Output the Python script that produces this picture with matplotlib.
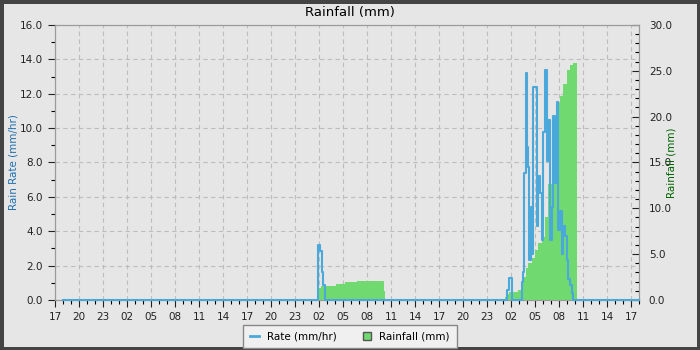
import datetime as dt
import matplotlib
matplotlib.use("Agg")
import matplotlib.pyplot as plt
import matplotlib.dates as mdates
from matplotlib.patches import Patch
from matplotlib.lines import Line2D

start = dt.datetime(2024, 5, 10, 17, 0)

# rain rate (mm/hr), hours after start
rate_hours = [1.0, 32.75, 32.9, 33.1, 33.35, 33.5, 33.75,
              56.5, 56.75, 57.1,
              58.33, 58.54, 58.67, 58.83, 58.96, 59.08, 59.25, 59.46, 59.67,
              59.79, 60.21, 60.42, 60.625, 60.83, 61.04, 61.25, 61.46, 61.67,
              61.875, 62.08, 62.29, 62.5, 62.71, 62.92, 63.125, 63.33, 63.54,
              63.75, 63.96, 64.17, 64.375, 64.58, 64.79, 73.0]
rate_values = [0, 0, 3.2, 2.85, 1.6, 0.9, 0,
               0.6, 1.26, 0,
               1.07, 1.65, 7.4, 13.2, 8.9, 7.75, 2.3, 5.4, 2.7,
               12.4, 4.3, 7.2, 6.2, 3.5, 9.8, 13.4, 8.1, 10.5,
               3.5, 5.4, 10.7, 6.8, 11.5, 4.1, 5.2, 2.7, 4.3,
               3.7, 2.3, 1.2, 0.9, 0.4, 0, 0]

# rainfall (mm), hours after start
rain_hours = [1.0, 32.8, 33.0, 33.3, 35.1, 36.3, 37.7, 41.1, 41.25,
              56.25, 56.46, 56.75, 57.92, 58.33, 58.54, 58.83, 59.17, 59.58,
              60.0, 60.42, 60.83, 61.25, 61.67, 62.08, 62.5, 62.71, 63.125,
              63.54, 63.96, 64.375, 64.79, 65.21, 73.0]
rain_values = [0, 0.2, 1.27, 1.53, 1.74, 1.96, 2.07, 1.0, 0,
               0.3, 0.6, 0.9, 1.1, 1.85, 2.5, 3.5, 4.0, 4.6,
               5.45, 6.2, 6.9, 9.1, 12.7, 17.4, 19.1, 21.5, 22.2,
               23.6, 25.1, 25.6, 25.9, 0, 0]

rate_t = [start + dt.timedelta(hours=h) for h in rate_hours]
rain_t = [start + dt.timedelta(hours=h) for h in rain_hours]

bg = '#e6e6e6'
blue = '#4aa8db'
green = '#70d970'

fig = plt.figure(figsize=(7, 3.5), dpi=100, facecolor=bg,
                 edgecolor='#444444', linewidth=5)
ax = fig.add_axes([0.0786, 0.1429, 0.8343, 0.7857])
ax.set_facecolor(bg)
ax_rain = ax.twinx()
ax_rate = ax.twinx()

ax.set_xlim(start, start + dt.timedelta(hours=73))
ax.set_ylim(0, 16)
ax.set_yticks([i * 2 for i in range(9)])
ax.set_yticks(range(17), minor=True)
ax.yaxis.set_major_formatter(matplotlib.ticker.FormatStrFormatter('%.1f'))
ax.xaxis.set_major_locator(mdates.HourLocator(byhour=range(2, 24, 3)))
ax.xaxis.set_minor_locator(mdates.HourLocator())
ax.xaxis.set_major_formatter(mdates.DateFormatter('%H'))
ax.grid(True, color='#bdbdbd', linestyle=(0, (4, 3)), linewidth=0.8)
ax.tick_params(labelsize=7.5, colors='#222222', length=5, width=0.8)
ax.tick_params(which='minor', length=3, width=0.8)
ax.set_ylabel('Rain Rate (mm/hr)', color='#1f6fae', fontsize=7.5, labelpad=1)

ax_rain.fill_between(rain_t, rain_values, step='post', color=green, linewidth=0)
ax_rain.set_ylim(0, 30)
ax_rain.set_yticks([0, 5, 10, 15, 20, 25, 30])
ax_rain.set_yticks(range(31), minor=True)
ax_rain.yaxis.set_major_formatter(matplotlib.ticker.FormatStrFormatter('%.1f'))
ax_rain.tick_params(labelsize=7.5, colors='#222222', direction='in', length=5,
                    width=0.8, pad=7)
ax_rain.tick_params(which='minor', direction='in', length=3, width=0.8)
ax_rain.set_ylabel('Rainfall (mm)', color='#006400', fontsize=7.5, labelpad=-4)

ax_rate.step(rate_t, rate_values, where='post', color=blue, linewidth=1.5,
             clip_on=False)
ax_rate.set_ylim(0, 16)
ax_rate.axis('off')

for a in (ax, ax_rain):
    for s in a.spines.values():
        s.set_color('#9a9a9a')

fig.text(0.5, 0.965, 'Rainfall (mm)', ha='center', va='center', fontsize=9.5)

handles = [Line2D([0], [0], color=blue, linewidth=2),
           Patch(facecolor=green, edgecolor='#555555')]
fig.legend(handles, ['Rate (mm/hr)', 'Rainfall (mm)'], loc='upper center',
           bbox_to_anchor=(0.5, 0.072), ncol=2, fontsize=7.5, frameon=True,
           fancybox=False, edgecolor='#888888', facecolor='#f0f0f0',
           framealpha=1, handlelength=0.8, columnspacing=2.5,
           borderpad=0.65, borderaxespad=0)

fig.savefig('out.png', dpi=100, facecolor=bg, edgecolor='#444444')
